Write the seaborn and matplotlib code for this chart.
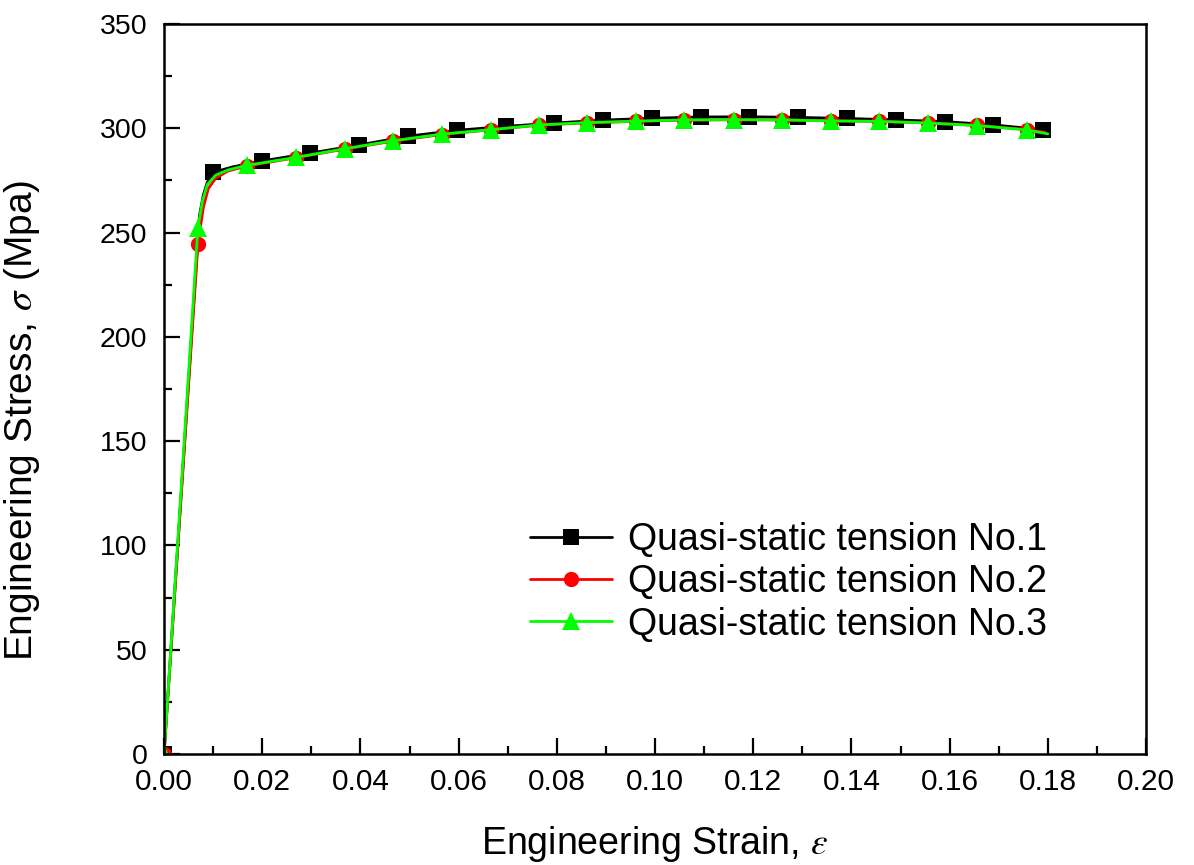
import numpy as np
import pandas as pd
import matplotlib
matplotlib.use("Agg")
import matplotlib.pyplot as plt
import seaborn as sns
from matplotlib.ticker import MultipleLocator, FormatStrFormatter

# ---- data ----
labels = ["Quasi-static tension No.1", "Quasi-static tension No.2", "Quasi-static tension No.3"]
colors = ["#000000", "#ff0000", "#00ff00"]
markers = ["s", "o", "^"]

# No.1 (black squares)
strain_1 = [0.0, 0.0036, 0.0072, 0.0080, 0.0088, 0.0099, 0.0140, 0.0199, 0.0298, 0.0398, 0.0497,
            0.0596, 0.0696, 0.0795, 0.0894, 0.0994, 0.1093, 0.1192, 0.1292, 0.1391, 0.1490,
            0.1590, 0.1689, 0.1790]
stress_1 = [0.0, 129.0, 258.0, 268.0, 274.0, 278.8, 281.5, 284.3, 288.1, 292.0, 296.2,
            299.0, 300.9, 302.5, 303.9, 304.8, 305.4, 305.5, 305.2, 304.7, 304.0,
            303.2, 301.6, 299.3]
mark_1 = [0, 5, 7, 8, 9, 10, 11, 12, 13, 14, 15, 16, 17, 18, 19, 20, 21, 22, 23]

# No.2 (red circles)
strain_2 = [0.0, 0.0069, 0.0080, 0.0090, 0.0105, 0.0130, 0.0168, 0.0268, 0.0368, 0.0466,
            0.0566, 0.0666, 0.0764, 0.0862, 0.0961, 0.1060, 0.1160, 0.1259, 0.1358, 0.1457,
            0.1556, 0.1656, 0.1757, 0.1795]
stress_2 = [0.0, 244.5, 262.0, 271.0, 276.0, 279.5, 281.8, 285.9, 290.0, 293.8,
            297.0, 299.3, 301.5, 302.6, 303.3, 303.9, 304.1, 304.0, 303.6, 303.3,
            302.6, 301.4, 299.4, 298.0]
mark_2 = [0, 1, 6, 7, 8, 9, 10, 11, 12, 13, 14, 15, 16, 17, 18, 19, 20, 21, 22]

# No.3 (green triangles)
strain_3 = [0.0, 0.0069, 0.0078, 0.0088, 0.0105, 0.0130, 0.0168, 0.0268, 0.0368, 0.0466,
            0.0566, 0.0666, 0.0764, 0.0862, 0.0961, 0.1060, 0.1160, 0.1259, 0.1358, 0.1457,
            0.1556, 0.1656, 0.1757, 0.1800]
stress_3 = [0.0, 252.3, 265.0, 273.0, 277.5, 280.0, 282.2, 286.0, 290.2, 294.0,
            297.2, 299.3, 301.6, 302.7, 303.4, 304.0, 304.1, 304.0, 303.5, 303.3,
            302.5, 301.3, 299.2, 297.3]
mark_3 = [0, 1, 6, 7, 8, 9, 10, 11, 12, 13, 14, 15, 16, 17, 18, 19, 20, 21, 22]

xticks = [0.00, 0.02, 0.04, 0.06, 0.08, 0.10, 0.12, 0.14, 0.16, 0.18, 0.20]
yticks = [0, 50, 100, 150, 200, 250, 300, 350]

series = [(strain_1, stress_1, mark_1), (strain_2, stress_2, mark_2), (strain_3, stress_3, mark_3)]
msizes = [11, 11, 13]

sns.set_theme(style="white")
plt.rcParams["font.family"] = ["Liberation Sans", "DejaVu Sans"]
plt.rcParams["mathtext.fontset"] = "stix"
plt.rcParams["text.color"] = "black"
plt.rcParams["axes.labelcolor"] = "black"
plt.rcParams["xtick.color"] = "black"
plt.rcParams["ytick.color"] = "black"

fig = plt.figure(figsize=(11.94, 8.65), dpi=100)
ax = fig.add_axes([0.1374, 0.1283, 0.8224, 0.8440])

for (sx, sy, mk), lab, c, m, ms in zip(series, labels, colors, markers, msizes):
    df = pd.DataFrame({"strain": sx, "stress": sy})
    sns.lineplot(data=df, x="strain", y="stress", ax=ax, color=c, lw=2.0,
                 marker=m, markersize=ms, markeredgewidth=0, markevery=mk,
                 estimator=None, sort=False, label=lab)

ax.set_xlim(0, 0.20)
ax.set_ylim(0, 350)
ax.set_xticks(xticks)
ax.set_yticks(yticks)
ax.xaxis.set_major_formatter(FormatStrFormatter("%.2f"))
ax.xaxis.set_minor_locator(MultipleLocator(0.01))
ax.yaxis.set_minor_locator(MultipleLocator(25))
ax.tick_params(axis="both", which="major", direction="in", length=11.5, width=1.6,
               color="black", labelcolor="black",
               top=False, right=False, bottom=True, left=True)
ax.tick_params(axis="both", which="minor", direction="in", length=6, width=1.6,
               color="black", top=False, right=False, bottom=True, left=True)
ax.tick_params(axis="x", which="major", labelsize=21.5, pad=10)
ax.tick_params(axis="y", which="major", labelsize=20.5, pad=12)
for s in ax.spines.values():
    s.set_linewidth(1.8)
    s.set_color("black")
    s.set_visible(True)

ax.set_xlabel(r"Engineering Strain, $\varepsilon$", fontsize=27, labelpad=20, color="black")
ax.set_ylabel(r"Engineering Stress, $\sigma$ (Mpa)", fontsize=28, color="black")
ax.yaxis.set_label_coords(-0.1242, 0.4575)

leg = ax.legend(loc="upper left", bbox_to_anchor=(0.3727, 0.318), frameon=False, fontsize=27,
                handlelength=2.19, handletextpad=0.43, labelspacing=0.17, borderaxespad=0,
                borderpad=0, labelcolor="black")

fig.savefig("out.png", dpi=100)
